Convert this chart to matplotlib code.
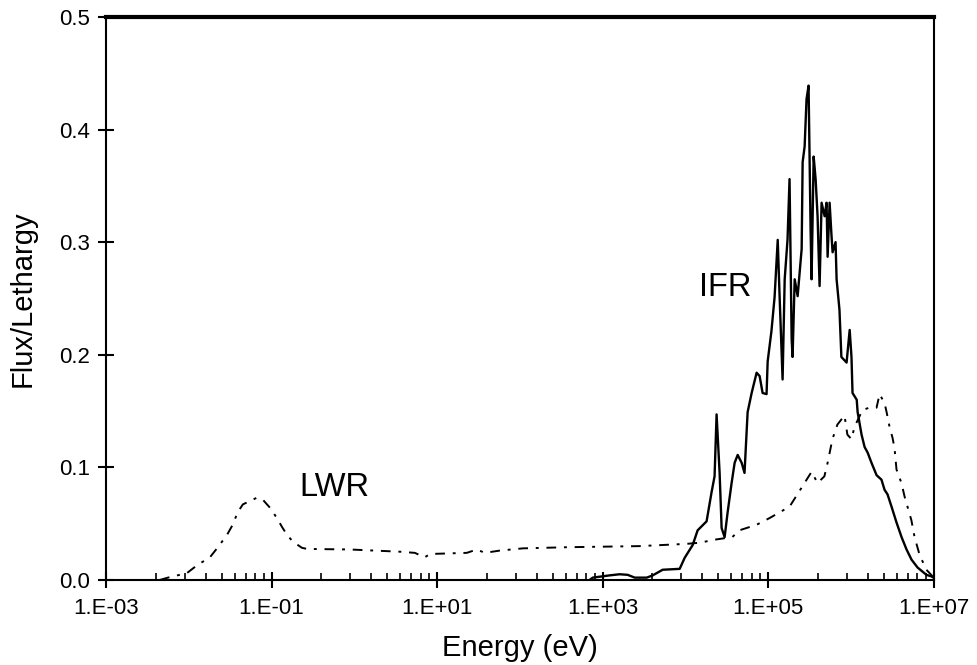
import numpy as np
import matplotlib.pyplot as plt
from matplotlib.ticker import FixedLocator, NullFormatter

plt.rcParams['font.family'] = ['Liberation Sans', 'DejaVu Sans']

# LWR spectrum (energy in eV, flux per lethargy)
lwr_energy = [4.5e-3, 5.6e-3, 9.5e-3, 1.26e-2, 1.8e-2, 2.25e-2, 2.9e-2, 3.4e-2,
              3.9e-2, 4.5e-2, 5.8e-2, 6.7e-2, 7.9e-2, 9.6e-2, 0.116, 0.134,
              0.154, 0.181, 0.233, 0.268, 0.885, 3.6, 5.4, 7.1, 8.2, 22.9,
              30.3, 37.8, 57, 109, 370, 2810, 1.04e4, 1.49e4, 2.4e4, 3.7e4,
              4.5e4, 7.3e4, 1.05e5, 1.38e5, 1.82e5, 2.55e5, 3.36e5, 3.97e5,
              4.8e5, 5.25e5, 6.0e5, 6.9e5, 8.4e5, 9.1e5, 1.02e6, 1.11e6,
              1.39e6, 1.69e6, 2.05e6, 2.23e6, 2.56e6, 2.71e6, 2.94e6, 3.2e6,
              3.38e6, 3.57e6, 4.1e6, 4.47e6, 5.4e6, 5.9e6, 6.8e6, 8.2e6, 9.5e6,
              1.0e7]
lwr_flux = [0.0, 0.002, 0.006, 0.013, 0.020, 0.029, 0.040, 0.049,
            0.060, 0.067, 0.071, 0.073, 0.071, 0.064, 0.055, 0.047,
            0.040, 0.034, 0.0285, 0.0275, 0.027, 0.025, 0.024, 0.020, 0.023, 0.024,
            0.027, 0.024, 0.026, 0.028, 0.029, 0.030, 0.032, 0.033, 0.036, 0.038,
            0.044, 0.049, 0.055, 0.060, 0.065, 0.082, 0.096, 0.086,
            0.092, 0.104, 0.125, 0.138, 0.146, 0.129, 0.125, 0.136,
            0.151, 0.153, 0.153, 0.165, 0.157, 0.149, 0.136, 0.126,
            0.117, 0.098, 0.086, 0.074, 0.053, 0.038, 0.022, 0.009, 0.004,
            0.002]

# IFR spectrum
ifr_energy = [700, 762, 1220, 1610, 2010, 2450, 3420, 4040, 5330, 8560, 9840,
              1.23e4, 1.41e4, 1.81e4, 2.08e4, 2.26e4, 2.39e4, 2.6e4, 2.75e4,
              2.99e4, 3.25e4, 3.63e4, 3.95e4, 4.3e4, 4.8e4, 5.2e4, 5.67e4,
              6.34e4, 7.28e4, 7.92e4, 8.6e4, 9.6e4, 9.9e4, 1.10e5, 1.20e5,
              1.31e5, 1.38e5, 1.50e5, 1.59e5, 1.72e5, 1.82e5, 1.93e5, 1.98e5,
              2.1e5, 2.28e5, 2.55e5, 2.62e5, 2.77e5, 2.92e5, 3.09e5, 3.27e5,
              3.36e5, 3.56e5, 3.76e5, 3.97e5, 4.2e5, 4.44e5, 4.83e5, 5.1e5,
              5.25e5, 5.55e5, 5.86e5, 6.03e5, 6.55e5, 6.74e5, 7.3e5, 7.7e5,
              8.9e5, 9.7e5, 1.02e6, 1.05e6, 1.18e6, 1.21e6, 1.35e6, 1.47e6,
              1.60e6, 1.78e6, 2.05e6, 2.35e6, 2.56e6, 2.78e6, 3.11e6, 3.57e6,
              4.11e6, 4.72e6, 5.42e6, 6.41e6, 8.2e6, 9.5e6, 1.0e7]
ifr_flux = [0.0, 0.002, 0.004, 0.005, 0.0045, 0.002, 0.002, 0.004, 0.009, 0.0098, 0.0196,
            0.031, 0.044, 0.052, 0.078, 0.092, 0.147, 0.095, 0.046,
            0.038, 0.060, 0.086, 0.104, 0.111, 0.104, 0.095, 0.149,
            0.166, 0.184, 0.181, 0.166, 0.165, 0.194, 0.221, 0.251,
            0.302, 0.252, 0.178, 0.267, 0.302, 0.356, 0.214, 0.198,
            0.267, 0.252, 0.294, 0.371, 0.385, 0.427, 0.439, 0.311,
            0.267, 0.376, 0.356, 0.323, 0.261, 0.335, 0.323, 0.335,
            0.287, 0.335, 0.305, 0.291, 0.300, 0.267, 0.240, 0.198,
            0.193, 0.222, 0.198, 0.166, 0.160, 0.149, 0.129, 0.118,
            0.113, 0.104, 0.093, 0.089, 0.080, 0.076, 0.065, 0.051,
            0.038, 0.027, 0.018, 0.011, 0.0045, 0.003, 0.002]

x_major = [1e-3, 1e-1, 1e1, 1e3, 1e5, 1e7]
x_labels = ['1.E-03', '1.E-01', '1.E+01', '1.E+03', '1.E+05', '1.E+07']
y_ticks = [0.0, 0.1, 0.2, 0.3, 0.4, 0.5]

fig = plt.figure(figsize=(9.77, 6.65), dpi=100)
ax = fig.add_axes([0.1085, 0.128, 0.847, 0.8465])

ax.plot(ifr_energy, ifr_flux, '-', color='black', linewidth=1.7)
ax.plot(lwr_energy, lwr_flux, color='black', linewidth=1.4,
        linestyle=(0, (5, 4, 1.5, 4)))

ax.set_xscale('log')
ax.set_xlim(1e-3, 1e7)
ax.set_ylim(0, 0.5)

# excel-style minor ticks: major value times k^2
minor = [d * k ** 2 for d in x_major[:-1] for k in range(2, 10)]
ax.xaxis.set_major_locator(FixedLocator(x_major))
ax.set_xticklabels(x_labels)
ax.xaxis.set_minor_locator(FixedLocator(minor))
ax.xaxis.set_minor_formatter(NullFormatter())
ax.set_yticks(y_ticks)
ax.set_yticklabels([f'{v:.1f}' for v in y_ticks])

ax.tick_params(axis='x', which='major', direction='inout', length=12, width=1.5,
               labelsize=16, pad=7)
ax.tick_params(axis='x', which='minor', direction='in', length=5, width=1.2)
ax.tick_params(axis='y', direction='inout', length=11, width=1.5,
               labelsize=16, pad=6)

for side in ['left', 'right', 'bottom']:
    ax.spines[side].set_linewidth(1.5)
ax.spines['top'].set_linewidth(3)

ax.set_xlabel('Energy (eV)', fontsize=21, labelpad=11)
ax.set_ylabel('Flux/Lethargy', fontsize=21, labelpad=16)

ax.text(0.57, 0.082, 'LWR', fontsize=23.5, ha='center', va='center')
ax.text(3.07e4, 0.26, 'IFR', fontsize=23.5, ha='center', va='center')

fig.savefig('out.png', dpi=100)
